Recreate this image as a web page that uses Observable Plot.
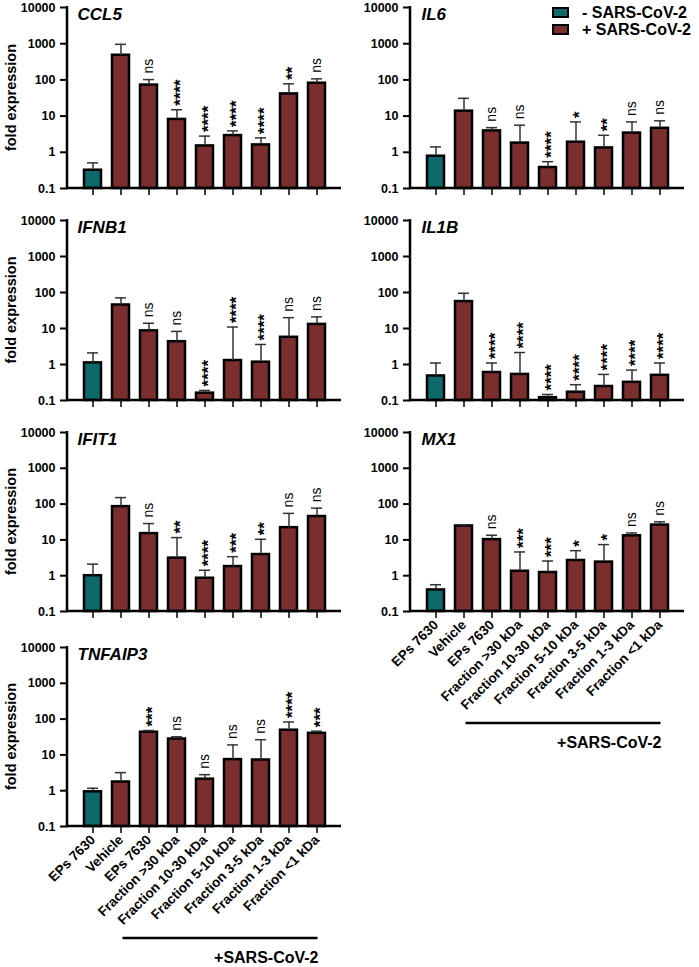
<!DOCTYPE html>
<html><head><meta charset="utf-8">
<script src="https://cdn.jsdelivr.net/npm/d3@7"></script>
<script src="https://cdn.jsdelivr.net/npm/@observablehq/plot@0.6"></script>
<style>
body{margin:0;background:#fff;font-family:"Liberation Sans",Arial,sans-serif;}
#root{position:relative;width:699px;height:967px;}
.panel{position:absolute;}
.panel svg{display:block;overflow:visible;}
#legend{position:absolute;left:552px;top:4px;font-weight:bold;font-size:16px;color:#000;}
#legend .row{display:flex;align-items:center;height:17px;}
#legend .sw{width:17px;height:11px;box-sizing:border-box;border:2.5px solid #000;margin-right:13px;}
</style>
</head><body><div id="root"></div>
<script>
// ---- data ----
const conditions = ["EPs 7630","Vehicle","EPs 7630","Fraction >30 kDa","Fraction 10-30 kDa","Fraction 5-10 kDa","Fraction 3-5 kDa","Fraction 1-3 kDa","Fraction <1 kDa"];
const infection = ["-","+","+","+","+","+","+","+","+"];
const infectionLabels = ["- SARS-CoV-2","+ SARS-CoV-2"];
const infectionColors = ["#0e6a6a","#7a2e2e"];
const yTicks = [0.1, 1, 10, 100, 1000, 10000];
const groupLabel = "+SARS-CoV-2";

const ccl5Mean  = [0.32, 480, 72, 8.1, 1.5, 2.9, 1.6, 41, 81];
const ccl5Upper = [0.51, 960, 102, 15, 2.8, 3.9, 2.5, 78, 107];
const ccl5Sig   = ["", "", "ns", "****", "****", "****", "****", "**", "ns"];

const il6Mean  = [0.78, 13.7, 3.9, 1.8, 0.38, 1.9, 1.32, 3.4, 4.6];
const il6Upper = [1.41, 31, 4.8, 5.6, 0.55, 6.9, 2.95, 6.9, 7.4];
const il6Sig   = ["", "", "ns", "ns", "****", "*", "**", "ns", "ns"];

const ifnb1Mean  = [1.11, 45, 8.6, 4.3, 0.16, 1.29, 1.16, 5.7, 13];
const ifnb1Upper = [2.1, 71, 14, 8.3, 0.19, 11, 3.6, 20, 21];
const ifnb1Sig   = ["", "", "ns", "ns", "****", "****", "****", "ns", "ns"];

const il1bMean  = [0.48, 56, 0.6, 0.53, 0.12, 0.17, 0.245, 0.32, 0.5];
const il1bUpper = [1.1, 95, 1.1, 2.15, 0.147, 0.275, 0.53, 0.7, 1.1];
const il1bSig   = ["", "", "****", "****", "****", "****", "****", "****", "****"];

const ifit1Mean  = [1.0, 85, 15, 3.1, 0.85, 1.8, 3.9, 22, 45];
const ifit1Upper = [2.1, 152, 28.6, 11.6, 1.42, 3.4, 10.4, 55, 77];
const ifit1Sig   = ["", "", "ns", "**", "****", "***", "**", "ns", "ns"];

const mx1Mean  = [0.4, 24.5, 10.2, 1.33, 1.23, 2.66, 2.4, 13, 26];
const mx1Upper = [0.56, 26.5, 13.5, 4.6, 2.57, 5.0, 7.4, 15.6, 32];
const mx1Sig   = ["", "", "ns", "***", "***", "*", "*", "ns", "ns"];

const tnfaip3Mean  = [0.93, 1.75, 43, 27.8, 2.1, 7.4, 7.2, 49, 40];
const tnfaip3Upper = [1.17, 3.2, 48, 32, 2.8, 19, 26.6, 83, 46];
const tnfaip3Sig   = ["", "", "***", "ns", "ns", "ns", "ns", "****", "***"];

const panels = [
  {gene:"CCL5", mean:ccl5Mean, upper:ccl5Upper, sig:ccl5Sig, col:0, row:0},
  {gene:"IL6", mean:il6Mean, upper:il6Upper, sig:il6Sig, col:1, row:0},
  {gene:"IFNB1", mean:ifnb1Mean, upper:ifnb1Upper, sig:ifnb1Sig, col:0, row:1},
  {gene:"IL1B", mean:il1bMean, upper:il1bUpper, sig:il1bSig, col:1, row:1},
  {gene:"IFIT1", mean:ifit1Mean, upper:ifit1Upper, sig:ifit1Sig, col:0, row:2},
  {gene:"MX1", mean:mx1Mean, upper:mx1Upper, sig:mx1Sig, col:1, row:2, xLabels:true},
  {gene:"TNFAIP3", mean:tnfaip3Mean, upper:tnfaip3Upper, sig:tnfaip3Sig, col:0, row:3, xLabels:true}
];

// ---- layout ----
const rowTop = [7, 220, 432, 647];
const rowBottom = [188, 400, 611, 826];
const colLeft = [0, 350];
const colWidth = [350, 349];
const colMarginLeft = [67, 60];
const innerWidth = 274;
const FONT = "'Liberation Sans', Arial, sans-serif";

const root = document.getElementById("root");

function decor(p) {
  return (index, scales, values, dim) => {
    const g = d3.create("svg:g");
    const x0 = dim.marginLeft, x1 = dim.width - dim.marginRight;
    const yT = scales.y(10000), yB = scales.y(0.1);
    g.append("line").attr("x1", x0).attr("x2", x0).attr("y1", yT - 1).attr("y2", yB + 1.2)
      .attr("stroke", "#000").attr("stroke-width", 2.5);
    g.append("line").attr("x1", x0).attr("x2", x1).attr("y1", yB).attr("y2", yB)
      .attr("stroke", "#000").attr("stroke-width", 2.5);
    if (p.col === 0) {
      g.append("text").attr("transform", `translate(${x0 - 55},${(yT + yB) / 2}) rotate(-90)`)
        .attr("text-anchor", "middle").attr("dominant-baseline", "middle")
        .attr("font-size", 14.5).attr("font-weight", "bold").attr("font-family", FONT)
        .attr("fill", "#000").text("fold expression");
    }
    if (p.xLabels) {
      const xs = scales.x, bw = xs.bandwidth ? xs.bandwidth() : 0;
      const lx1 = xs(1) + bw / 2 + 2, lx2 = xs(8) + bw / 2 + 1;
      g.append("line").attr("x1", lx1).attr("x2", lx2).attr("y1", yB + 112).attr("y2", yB + 112)
        .attr("stroke", "#000").attr("stroke-width", 2.5);
      g.append("text").attr("x", lx2 + 1).attr("y", yB + 137).attr("text-anchor", "end")
        .attr("font-size", 16).attr("font-weight", "bold").attr("font-family", FONT)
        .attr("fill", "#000").text(groupLabel);
    }
    return g.node();
  };
}

for (const p of panels) {
  const data = conditions.map((c, i) => ({i, cond: c, inf: infection[i], mean: p.mean[i], upper: p.upper[i], sig: p.sig[i]}));
  const mt = 8;
  const inner = rowBottom[p.row] - rowTop[p.row];
  const mb = p.xLabels ? (p.col === 0 ? 139 : 150) : 20;
  const ml = colMarginLeft[p.col];
  const width = colWidth[p.col];
  const height = mt + inner + mb;
  const marks = [
    Plot.barY(data, {x: "i", y1: 0.1, y2: "mean", fill: "inf", stroke: "#000", strokeWidth: 2.5}),
    Plot.ruleX(data, {x: "i", y1: "mean", y2: "upper", stroke: "#333", strokeWidth: 1.5}),
    Plot.tickY(data, {x: "i", y: "upper", stroke: "#333", strokeWidth: 1.5, insetLeft: 3, insetRight: 3}),
    Plot.text(data.filter(d => d.sig === "ns"), {x: "i", y: "upper", text: "sig", rotate: -90, textAnchor: "start", dy: -6, fontSize: 14, fill: "#000"}),
    Plot.text(data.filter(d => d.sig.startsWith("*")), {x: "i", y: "upper", text: "sig", rotate: -90, textAnchor: "start", dy: -4, dx: 4, fontSize: 17, fontWeight: "bold", fill: "#000"}),
    Plot.axisY({ticks: yTicks, tickFormat: d => String(d), tickSize: 7, tickPadding: 5, strokeWidth: 2, fontSize: 12.5, fontWeight: "bold", label: null})
  ];
  if (p.xLabels) {
    marks.push(Plot.axisX({tickSize: 7, strokeWidth: 1.5, tickFormat: i => conditions[i], tickRotate: -45, tickPadding: 4, fontSize: 13.5, fontWeight: "bold", label: null}));
  } else {
    marks.push(Plot.ruleX(data, {x: "i", y1: 0.1, y2: 0.1, insetBottom: -7, stroke: "#000", strokeWidth: 1.5}));
  }
  marks.push(decor(p));
  marks.push(Plot.text([p.gene], {frameAnchor: "top-left", text: d => d, textAnchor: "start", lineAnchor: "top", dx: p.col === 0 ? 10 : 11, dy: 0, fontSize: 17, fontWeight: "bold", fontStyle: "italic", fill: "#000"}));
  const chart = Plot.plot({
    width, height,
    marginLeft: ml, marginRight: width - ml - innerWidth, marginTop: mt, marginBottom: mb,
    style: {fontFamily: FONT, color: "#000", background: "transparent", overflow: "visible"},
    x: {type: "band", domain: d3.range(conditions.length), paddingInner: 0.4, paddingOuter: 0.445, axis: p.xLabels ? undefined : null},
    y: {type: "log", domain: [0.1, 10000]},
    color: {domain: ["-", "+"], range: infectionColors},
    marks
  });
  const wrap = document.createElement("div");
  wrap.className = "panel";
  wrap.style.left = colLeft[p.col] + "px";
  wrap.style.top = (rowTop[p.row] - mt) + "px";
  wrap.style.width = width + "px";
  wrap.style.height = height + "px";
  wrap.appendChild(chart);
  root.appendChild(wrap);
}

// legend
const legend = document.createElement("div");
legend.id = "legend";
infectionLabels.forEach((lab, k) => {
  const row = document.createElement("div");
  row.className = "row";
  const sw = document.createElement("div");
  sw.className = "sw";
  sw.style.background = infectionColors[k];
  const t = document.createElement("span");
  t.textContent = lab;
  row.appendChild(sw); row.appendChild(t);
  legend.appendChild(row);
});
root.appendChild(legend);
</script>
</body></html>
